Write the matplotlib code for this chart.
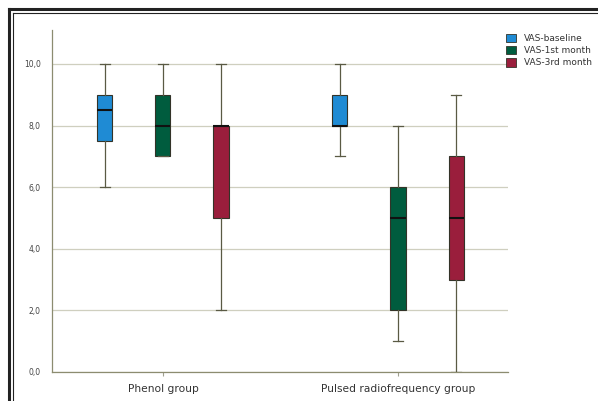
import matplotlib
matplotlib.use("Agg")
import matplotlib.pyplot as plt
from matplotlib.patches import Patch
from matplotlib.lines import Line2D

groups = ["Phenol group", "Pulsed radiofrequency group"]
series = ["VAS-baseline", "VAS-1st month", "VAS-3rd month"]
colors = ["#1f8bd4", "#005c3e", "#9a1e3c"]

# per series, per group: (whislo, q1, median, q3, whishi)
stats = {
    "VAS-baseline":  [(6, 7.5, 8.5, 9, 10), (7, 8, 8, 9, 10)],
    "VAS-1st month": [(7, 7, 8, 9, 10),     (1, 2, 5, 6, 8)],
    "VAS-3rd month": [(2, 5, 8, 8, 10),     (0, 3, 5, 7, 9)],
}
yticks = [0, 2, 4, 6, 8, 10]
ytick_labels = ["0,0", "2,0", "4,0", "6,0", "8,0", "10,0"]

fig = plt.figure(figsize=(5.98, 4.01), dpi=100)
ax = fig.add_axes([52 / 598, 29 / 401, 456 / 598, 342 / 401])

offset = 0.247
width = 0.064
whisk_col = "#5a5a44"
for i, name in enumerate(series):
    bxstats = []
    positions = []
    for g, (lo, q1, med, q3, hi) in enumerate(stats[name]):
        bxstats.append(dict(whislo=lo, q1=q1, med=med, q3=q3, whishi=hi, fliers=[]))
        positions.append(g + (i - 1) * offset)
    ax.bxp(bxstats, positions=positions, widths=width, patch_artist=True,
           showfliers=False,
           boxprops=dict(facecolor=colors[i], edgecolor="#333328", linewidth=0.8),
           medianprops=dict(color="#111111", linewidth=1.5),
           whiskerprops=dict(color=whisk_col, linewidth=0.9),
           capprops=dict(color=whisk_col, linewidth=0.9),
           capwidths=0.04, zorder=3)

ax.set_xlim(-0.472, 1.468)
ax.set_ylim(0, 11.1)
ax.set_yticks(yticks)
ax.set_yticklabels(ytick_labels, fontsize=5.5, color="#444444")
ax.set_xticks([0, 1])
ax.set_xticklabels(groups, fontsize=7.7, color="#333333")
ax.tick_params(axis="y", length=0, pad=8)
ax.tick_params(axis="x", length=3, color="#a0a090", pad=6)
ax.yaxis.grid(True, color="#cfcfbf", linewidth=0.9, zorder=0)
ax.set_axisbelow(True)
for s in ["top", "right"]:
    ax.spines[s].set_visible(False)
for s in ["left", "bottom"]:
    ax.spines[s].set_color("#8c8c70")
    ax.spines[s].set_linewidth(0.9)

handles = [Patch(facecolor=c, edgecolor="#333328", linewidth=0.6) for c in colors]
fig.legend(handles, series, loc="upper left", bbox_to_anchor=(502 / 598, 1 - 30 / 401),
           frameon=False, fontsize=6.5, handlelength=1.1, handleheight=1.1,
           handletextpad=0.9, labelspacing=0.3, borderaxespad=0, labelcolor="#333333")

# double frame at top and left
fig.add_artist(Line2D([9 / 598, 1], [1 - 9 / 401] * 2, color="#222222", lw=2.2, transform=fig.transFigure))
fig.add_artist(Line2D([12.5 / 598, 1], [1 - 12.5 / 401] * 2, color="#222222", lw=0.8, transform=fig.transFigure))
fig.add_artist(Line2D([9 / 598] * 2, [0, 1 - 9 / 401], color="#222222", lw=2.2, transform=fig.transFigure))
fig.add_artist(Line2D([12.5 / 598] * 2, [0, 1 - 12.5 / 401], color="#222222", lw=0.8, transform=fig.transFigure))

fig.savefig("out.png", dpi=100)
